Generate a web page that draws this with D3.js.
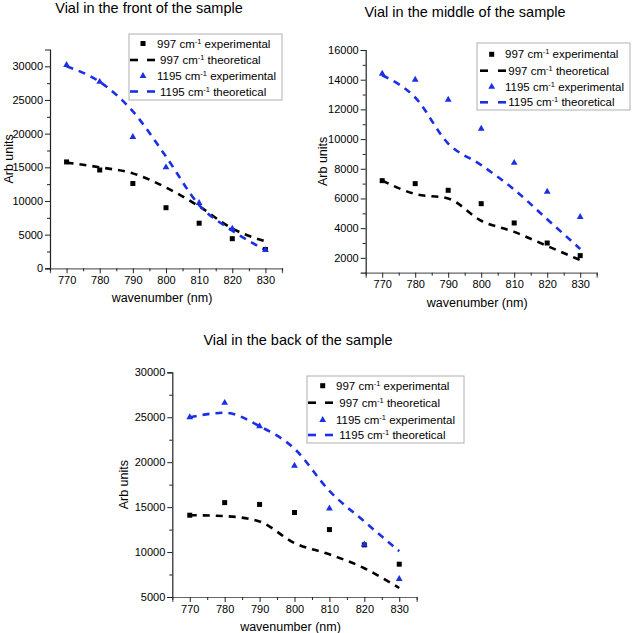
<!DOCTYPE html>
<html><head><meta charset="utf-8">
<script src="https://cdn.jsdelivr.net/npm/d3@7"></script>
<style>body{margin:0;background:#fff}svg{display:block}text{font-family:Arial,"Liberation Sans",sans-serif;fill:#000}</style>
</head><body>
<svg id="c" width="632" height="633"></svg>
<script>
const wavelengths = [770, 780, 790, 800, 810, 820, 830];
const xTicks = [770, 780, 790, 800, 810, 820, 830];

// Front
const front997Exp  = [15800, 14600, 12600, 9000, 6700, 4400, 2800];
const front997Th   = [15700, 15000, 14100, 12000, 9200, 5900, 4000];
const front1195Exp = [30200, 27700, 19500, 15000, 9700, 5900, 2700];
const front1195Th  = [30000, 27700, 23300, 16600, 9400, 5600, 2700];
const frontYTicks  = [0, 5000, 10000, 15000, 20000, 25000, 30000];

// Middle
const mid997Exp  = [7200, 7000, 6550, 5650, 4350, 3000, 2150];
const mid997Th   = [7200, 6300, 6000, 4500, 3750, 2800, 1850];
const mid1195Exp = [14400, 14000, 12650, 10700, 8400, 6450, 4750];
const mid1195Th  = [14300, 12800, 9700, 8250, 6600, 4600, 2600];
const midYTicks  = [2000, 4000, 6000, 8000, 10000, 12000, 14000, 16000];

// Back
const back997Exp  = [14100, 15500, 15300, 14400, 12500, 10800, 8650];
const back997Th   = [14100, 14000, 13400, 11000, 9750, 8200, 6000];
const back1195Exp = [25000, 26600, 24000, 19600, 14850, 10850, 7000];
const back1195Th  = [25000, 25500, 24000, 21500, 16800, 13400, 10100];
const backYTicks  = [5000, 10000, 15000, 20000, 25000, 30000];

const legendLabels = [["997", " experimental"], ["997", " theoretical"], ["1195", " experimental"], ["1195", " theoretical"]];

const BLUE = "#1a2fe6";
const svg = d3.select("#c");

function drawChart(o) {
  const g = svg.append("g");
  const x = d3.scaleLinear().domain([765, 835]).range([o.x0, o.x1]);
  const y = d3.scaleLinear().domain(o.yDomain).range([o.y0, o.y1]);

  // title
  g.append("text").attr("x", o.titleX).attr("y", o.titleY).attr("text-anchor", "middle")
    .style("font-size", "14.5px").text(o.title);

  // axes
  const xAxis = d3.axisBottom(x).tickValues(xTicks).tickSize(5).tickPadding(3).tickFormat(d3.format("d"));
  const xMinor = d3.axisBottom(x).tickValues(d3.range(765, 836, 5).filter(v => v % 10 !== 0)).tickSize(3).tickFormat("");
  const yAxis = d3.axisLeft(y).tickValues(o.yTicks).tickSize(5).tickPadding(2).tickFormat(d3.format("d"));
  const minorStep = o.yTicks[1] - o.yTicks[0];
  const yMinorVals = o.yTicks.map(v => v + minorStep / 2).filter(v => v < o.yDomain[1]);
  const yMinor = d3.axisLeft(y).tickValues(yMinorVals).tickSize(3).tickFormat("");

  const gx = g.append("g").attr("transform", `translate(0,${o.y0})`).call(xAxis);
  g.append("g").attr("transform", `translate(0,${o.y0})`).call(xMinor).select(".domain").remove();
  const gy = g.append("g").attr("transform", `translate(${o.x0},0)`).call(yAxis);
  g.append("g").attr("transform", `translate(${o.x0},0)`).call(yMinor).select(".domain").remove();
  [gx, gy].forEach(a => {
    a.selectAll("text").style("font-size", "11px").style("font-family", "Arial,'Liberation Sans',sans-serif");
    a.select(".domain").attr("stroke", "#222").attr("stroke-width", 1.2);
  });
  gx.select(".domain").attr("stroke", "#666");
  g.selectAll(".tick line").attr("stroke", "#222");

  // axis labels
  g.append("text").attr("x", (o.x0 + o.x1) / 2 - 4).attr("y", o.y0 + 34).attr("text-anchor", "middle")
    .style("font-size", "12.5px").text("wavenumber (nm)");
  g.append("text").attr("transform", `translate(${o.yLabelX},${(o.y0 + o.y1) / 2}) rotate(-90)`)
    .attr("text-anchor", "middle").style("font-size", "12.5px").text("Arb units");

  // lines
  const line = d3.line().x((d, i) => x(wavelengths[i])).y(d => y(d)).curve(d3.curveMonotoneX);
  [[o.th997, "#000"], [o.th1195, BLUE]].forEach(([vals, c]) => {
    g.append("path").attr("d", line(vals)).attr("fill", "none").attr("stroke", c)
      .attr("stroke-width", 2.6).attr("stroke-dasharray", "7,6");
  });

  // markers
  g.append("g").selectAll("rect").data(o.exp997).join("rect")
    .attr("x", (d, i) => x(wavelengths[i]) - 2.5).attr("y", d => y(d) - 2.5)
    .attr("width", 5).attr("height", 5).attr("fill", "#000");
  const tri = d3.symbol().type(d3.symbolTriangle).size(20);
  g.append("g").selectAll("path").data(o.exp1195).join("path")
    .attr("transform", (d, i) => `translate(${x(wavelengths[i])},${y(d)})`)
    .attr("d", tri).attr("fill", BLUE);

  // legend
  const L = o.legend;
  g.append("rect").attr("x", L.bx0).attr("y", L.by0).attr("width", L.bx1 - L.bx0).attr("height", L.by1 - L.by0)
    .attr("fill", "#fff").attr("stroke", "#b0b0b0").attr("stroke-width", 1);
  legendLabels.forEach((lab, i) => {
    const ry = L.rows[i];
    const color = i < 2 ? "#000" : BLUE;
    const isExp = i % 2 === 0;
    if (isExp) {
      if (i === 0) g.append("rect").attr("x", L.mx - 2.5).attr("y", ry - 2.5).attr("width", 5).attr("height", 5).attr("fill", color);
      else g.append("path").attr("transform", `translate(${L.mx},${ry})`).attr("d", tri).attr("fill", color);
    } else {
      g.append("line").attr("x1", L.dx0).attr("x2", L.dx0 + 8).attr("y1", ry).attr("y2", ry).attr("stroke", color).attr("stroke-width", 2.6);
      g.append("line").attr("x1", L.dx1 - 8).attr("x2", L.dx1).attr("y1", ry).attr("y2", ry).attr("stroke", color).attr("stroke-width", 2.6);
    }
    const t = g.append("text").attr("x", isExp ? L.tExp : L.tTh).attr("y", ry + 4).style("font-size", "11.5px");
    t.append("tspan").text(lab[0] + " cm");
    t.append("tspan").attr("dy", -4).style("font-size", "7.5px").text("-1");
    t.append("tspan").attr("dy", 4).text(lab[1]);
  });
}

drawChart({
  title: "Vial in the front of the sample", titleX: 149, titleY: 13,
  x0: 50, x1: 282, y0: 268.3, y1: 49.5, yDomain: [0, 32500], yTicks: frontYTicks, yLabelX: 12.5,
  exp997: front997Exp, th997: front997Th, exp1195: front1195Exp, th1195: front1195Th,
  legend: {bx0: 129, bx1: 282, by0: 34, by1: 100, rows: [43.5, 60, 76, 91.5], mx: 143, dx0: 130, dx1: 155, tExp: 157, tTh: 160}
});
drawChart({
  title: "Vial in the middle of the sample", titleX: 465, titleY: 17,
  x0: 365.7, x1: 596.7, y0: 272.7, y1: 50, yDomain: [1000, 16000], yTicks: midYTicks, yLabelX: 327,
  exp997: mid997Exp, th997: mid997Th, exp1195: mid1195Exp, th1195: mid1195Th,
  legend: {bx0: 477, bx1: 630, by0: 43, by1: 110, rows: [54.3, 70.7, 86.7, 102.3], mx: 491.7, dx0: 480, dx1: 506, tExp: 505, tTh: 508.3}
});
drawChart({
  title: "Vial in the back of the sample", titleX: 298, titleY: 345,
  x0: 172.3, x1: 416.7, y0: 597, y1: 372.3, yDomain: [5000, 30000], yTicks: backYTicks, yLabelX: 128,
  exp997: back997Exp, th997: back997Th, exp1195: back1195Exp, th1195: back1195Th,
  legend: {bx0: 307, bx1: 464, by0: 376, by1: 443, rows: [385.7, 402.7, 420, 435], mx: 322.7, dx0: 308, dx1: 333, tExp: 336, tTh: 339.3}
});
</script>
</body></html>
